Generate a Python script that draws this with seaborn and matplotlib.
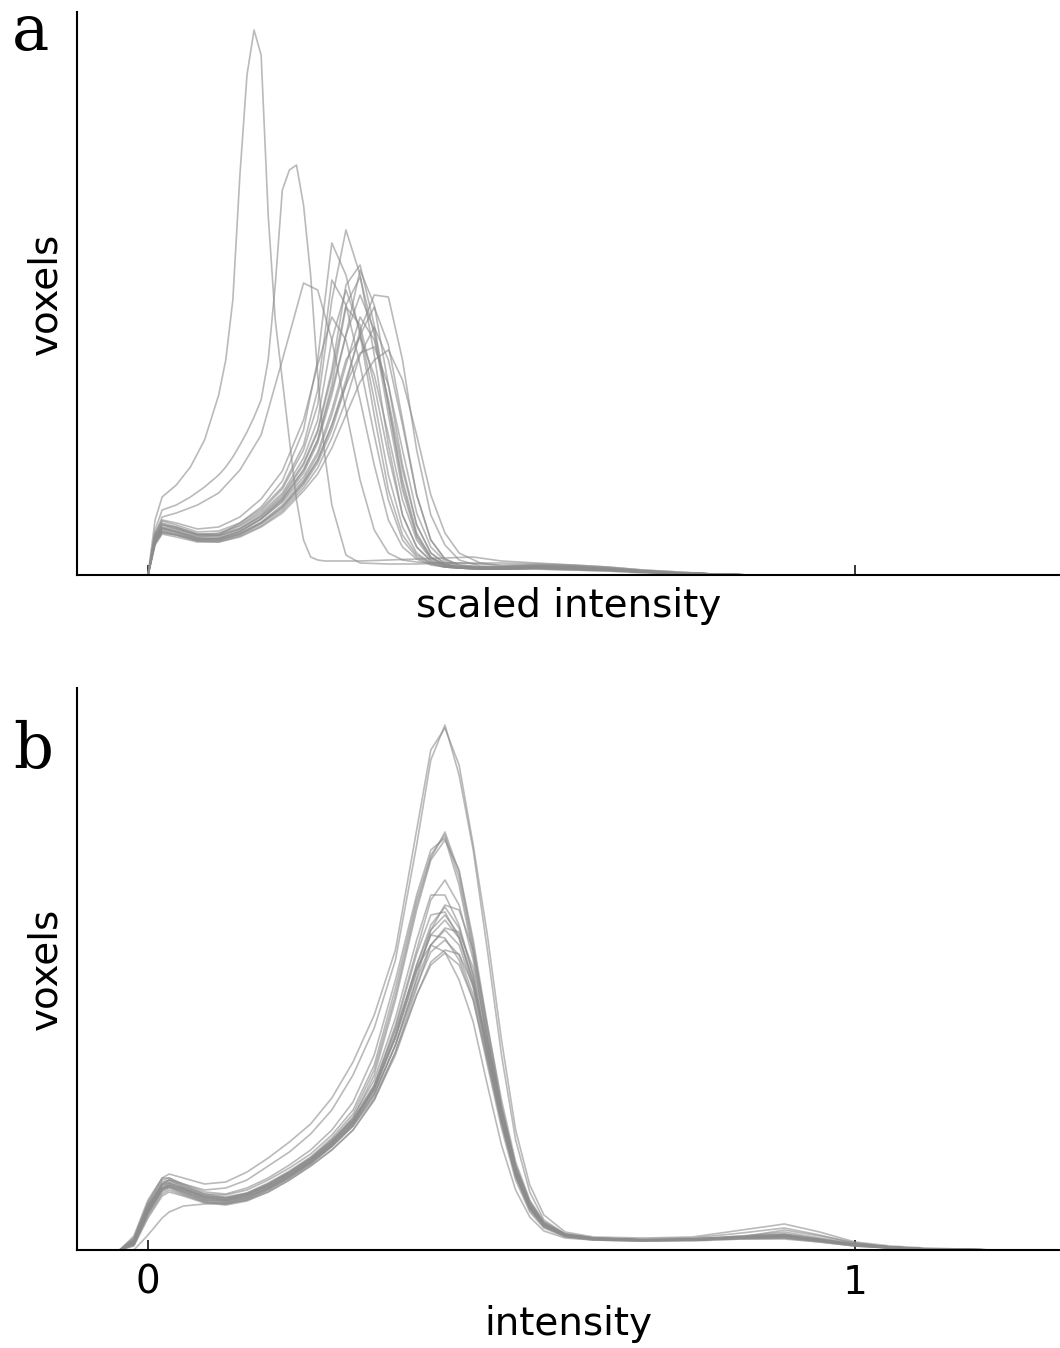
import matplotlib
matplotlib.use("Agg")
import matplotlib.pyplot as plt
import pandas as pd
import seaborn as sns

# ---------------- data (heights in arbitrary voxel-count units) ----------------
# panel a: two narrow early-peaking histograms on a fine grid
xa_peak = [0.00, 0.01, 0.02, 0.04, 0.06, 0.08, 0.10, 0.11, 0.12, 0.13, 0.14, 0.15, 0.16,
           0.17, 0.18, 0.19, 0.20, 0.21, 0.22, 0.23, 0.24, 0.25, 0.26, 0.28, 0.30, 0.34,
           0.38, 0.42, 0.46, 0.50, 0.55, 0.60, 0.65, 0.70, 0.75, 0.80, 0.85, 1.29]
a_peak1 = [0, 55, 78, 90, 108, 135, 180, 215, 275, 400, 500, 545, 520,
           360, 255, 195, 135, 75, 35, 18, 15, 14, 14, 14, 14, 15,
           16, 17, 18, 14, 12, 10, 8, 5, 3, 1, 0, 0]
a_peak2 = [0, 45, 65, 70, 78, 88, 100, 108, 118, 130, 143, 158, 175,
           215, 290, 385, 405, 410, 370, 300, 200, 120, 70, 20, 12, 11,
           11, 12, 12, 12, 11, 10, 8, 5, 3, 1, 0, 0]

# panel a: remaining histograms on a coarser grid
xa = [0.00, 0.01, 0.02, 0.04, 0.07, 0.10, 0.13, 0.16, 0.19, 0.22, 0.24, 0.26, 0.28, 0.30,
      0.32, 0.34, 0.36, 0.38, 0.40, 0.42, 0.44, 0.47, 0.50, 0.55, 0.60, 0.65, 0.70, 0.75,
      0.80, 0.85, 1.29]
a_c03 = [0, 40, 58, 62, 70, 82, 105, 140, 215, 292, 285, 235, 165, 95, 45, 22, 15, 13, 12, 12, 12, 11, 10, 10, 9, 7, 4, 2, 1, 0, 0]
a_c04 = [0, 36, 50, 46, 40, 42, 50, 64, 86, 125, 170, 275, 345, 300, 220, 130, 60, 28, 14, 9, 7, 6, 6, 7, 6, 5, 3, 2, 1, 0, 0]
a_c05 = [0, 33, 47, 44, 38, 40, 52, 68, 94, 145, 215, 332, 300, 240, 160, 85, 40, 20, 12, 8, 7, 6, 6, 6, 5, 4, 3, 1, 0, 0, 0]
a_c06 = [0, 38, 52, 48, 41, 40, 47, 60, 80, 112, 145, 205, 290, 310, 250, 170, 90, 40, 18, 10, 8, 7, 7, 8, 7, 5, 3, 2, 1, 0, 0]
a_c07 = [0, 34, 45, 42, 36, 36, 43, 56, 74, 102, 132, 180, 240, 305, 270, 190, 110, 50, 22, 12, 8, 7, 7, 8, 7, 6, 4, 2, 1, 0, 0]
a_c08 = [0, 32, 43, 40, 34, 34, 40, 51, 66, 90, 112, 145, 190, 245, 280, 278, 215, 125, 60, 30, 15, 9, 8, 9, 8, 6, 4, 2, 1, 0, 0]
a_c09 = [0, 40, 54, 50, 43, 44, 52, 66, 88, 130, 185, 295, 270, 210, 140, 75, 35, 18, 11, 8, 7, 6, 6, 7, 6, 5, 3, 2, 1, 0, 0]
a_c10 = [0, 36, 47, 43, 37, 36, 42, 53, 70, 95, 120, 160, 210, 258, 235, 175, 105, 50, 22, 11, 8, 7, 6, 7, 6, 5, 3, 2, 1, 0, 0]
a_c11 = [0, 38, 51, 47, 40, 39, 46, 58, 76, 105, 135, 190, 268, 250, 190, 120, 60, 28, 14, 9, 7, 6, 6, 7, 6, 5, 3, 2, 1, 0, 0]
a_c12 = [0, 30, 41, 38, 33, 33, 39, 49, 64, 87, 107, 137, 175, 220, 248, 215, 150, 80, 35, 16, 10, 8, 8, 9, 8, 6, 4, 2, 1, 0, 0]
a_c13 = [0, 35, 47, 44, 37, 37, 44, 56, 73, 98, 123, 165, 215, 238, 200, 140, 75, 35, 16, 10, 8, 7, 7, 8, 7, 5, 3, 2, 1, 0, 0]
a_c14 = [0, 33, 44, 41, 35, 35, 41, 52, 68, 92, 115, 150, 190, 222, 228, 190, 125, 62, 28, 14, 9, 8, 8, 9, 8, 6, 4, 2, 1, 0, 0]
a_c15 = [0, 31, 42, 40, 34, 33, 38, 48, 62, 84, 101, 127, 160, 193, 215, 225, 195, 140, 80, 42, 22, 12, 9, 10, 9, 7, 4, 2, 1, 0, 0]
a_c16 = [0, 37, 50, 48, 41, 41, 49, 62, 82, 117, 155, 235, 285, 245, 175, 100, 48, 22, 12, 8, 7, 6, 6, 7, 6, 5, 3, 2, 1, 0, 0]
a_c17 = [0, 34, 46, 43, 36, 37, 44, 56, 76, 105, 135, 185, 240, 280, 245, 170, 95, 42, 18, 10, 8, 7, 7, 8, 7, 5, 3, 2, 1, 0, 0]
a_c18 = [0, 42, 55, 52, 46, 48, 58, 76, 104, 155, 210, 258, 235, 175, 110, 55, 28, 16, 10, 8, 7, 6, 6, 6, 5, 4, 2, 1, 0, 0, 0]
a_c19 = [0, 32, 43, 40, 35, 35, 41, 52, 68, 93, 115, 150, 195, 240, 268, 230, 155, 80, 35, 16, 10, 8, 8, 9, 8, 6, 4, 2, 1, 0, 0]
a_c20 = [0, 35, 48, 46, 39, 39, 46, 59, 78, 110, 143, 200, 270, 298, 240, 160, 85, 38, 17, 10, 8, 7, 7, 8, 7, 5, 3, 2, 1, 0, 0]

# panel b: normalised histograms
xb = [-0.04, -0.02, 0.00, 0.02, 0.03, 0.05, 0.08, 0.11, 0.14, 0.17, 0.20, 0.23, 0.26, 0.29,
      0.32, 0.35, 0.38, 0.40, 0.42, 0.44, 0.46, 0.48, 0.50, 0.52, 0.54, 0.56, 0.59, 0.63,
      0.70, 0.77, 0.84, 0.90, 0.95, 1.00, 1.05, 1.10, 1.20, 1.29]
b_01 = [0, 12, 48, 72, 76, 72, 66, 68, 78, 92, 108, 126, 152, 188, 235, 300, 420, 500, 522, 485, 405, 315, 210, 120, 65, 35, 18, 13, 12, 13, 20, 26, 18, 8, 4, 2, 0, 0]
b_02 = [0, 8, 42, 66, 70, 66, 60, 62, 70, 84, 98, 116, 140, 175, 222, 290, 405, 490, 525, 475, 400, 300, 195, 110, 58, 30, 16, 12, 11, 12, 17, 22, 15, 7, 3, 1, 0, 0]
b_03 = [0, 8, 42, 66, 70, 64, 56, 55, 60, 70, 82, 96, 115, 140, 185, 262, 350, 395, 415, 372, 300, 215, 140, 80, 44, 25, 14, 11, 10, 10, 13, 14, 10, 5, 3, 1, 0, 0]
b_04 = [0, 5, 36, 60, 64, 60, 52, 50, 55, 64, 76, 90, 108, 132, 175, 250, 340, 390, 410, 380, 310, 225, 145, 84, 46, 26, 15, 11, 10, 11, 14, 16, 11, 6, 3, 1, 0, 0]
b_05 = [0, 10, 46, 70, 72, 66, 58, 56, 62, 72, 85, 100, 120, 148, 195, 270, 355, 400, 412, 365, 295, 210, 135, 76, 42, 24, 14, 11, 10, 10, 12, 13, 9, 5, 2, 1, 0, 0]
b_06 = [0, 6, 38, 62, 66, 62, 54, 52, 57, 67, 79, 93, 112, 136, 180, 255, 345, 392, 418, 378, 305, 220, 142, 82, 45, 25, 14, 11, 10, 10, 13, 15, 10, 5, 3, 1, 0, 0]
b_07 = [0, 8, 40, 62, 65, 60, 52, 50, 55, 64, 76, 90, 108, 130, 165, 225, 300, 350, 370, 345, 290, 210, 140, 82, 46, 26, 15, 12, 10, 11, 13, 15, 10, 5, 3, 1, 0, 0]
b_08 = [0, 6, 36, 58, 62, 56, 48, 46, 50, 60, 72, 86, 104, 126, 160, 215, 285, 325, 343, 322, 275, 205, 138, 80, 45, 26, 15, 11, 10, 10, 12, 14, 10, 5, 2, 1, 0, 0]
b_09 = [0, 10, 44, 66, 68, 62, 54, 52, 56, 66, 78, 92, 110, 130, 162, 212, 278, 315, 330, 312, 270, 200, 132, 76, 42, 24, 14, 11, 10, 10, 12, 13, 9, 5, 2, 1, 0, 0]
b_10 = [0, 12, 46, 68, 70, 63, 55, 52, 56, 65, 77, 90, 107, 128, 160, 212, 280, 315, 312, 290, 250, 185, 122, 70, 38, 22, 13, 10, 9, 10, 11, 12, 8, 4, 2, 1, 0, 0]
b_11 = [0, 4, 32, 54, 58, 54, 47, 45, 49, 58, 70, 84, 100, 120, 150, 195, 255, 285, 297, 285, 250, 190, 128, 75, 42, 24, 14, 11, 9, 10, 12, 13, 9, 5, 2, 1, 0, 0]
b_12 = [0, 9, 42, 64, 67, 61, 53, 51, 55, 65, 77, 91, 110, 133, 170, 232, 310, 355, 355, 325, 275, 200, 132, 76, 42, 24, 14, 11, 10, 10, 13, 14, 10, 5, 3, 1, 0, 0]
b_13 = [0, 7, 38, 60, 63, 58, 50, 48, 52, 61, 73, 87, 104, 125, 155, 205, 272, 320, 345, 340, 300, 225, 150, 88, 50, 28, 16, 12, 10, 11, 14, 18, 12, 6, 3, 1, 0, 0]
b_14 = [0, 8, 40, 62, 64, 58, 50, 49, 53, 62, 74, 88, 106, 128, 162, 215, 285, 320, 335, 315, 268, 198, 132, 78, 44, 25, 15, 11, 10, 11, 13, 15, 10, 5, 3, 1, 0, 0]
b_15 = [0, 5, 34, 56, 60, 55, 48, 46, 50, 58, 70, 84, 100, 120, 150, 198, 262, 305, 322, 318, 282, 212, 142, 84, 48, 27, 16, 12, 10, 11, 13, 16, 11, 6, 3, 1, 0, 0]
b_16 = [0, 10, 44, 65, 67, 61, 53, 50, 54, 63, 75, 89, 106, 126, 157, 205, 265, 298, 310, 295, 255, 190, 126, 73, 40, 23, 14, 10, 9, 10, 12, 12, 9, 4, 2, 1, 0, 0]
b_17 = [0, 14, 50, 72, 72, 65, 56, 53, 57, 66, 78, 92, 109, 130, 165, 220, 282, 305, 298, 270, 228, 165, 105, 60, 33, 19, 12, 10, 9, 9, 11, 11, 8, 4, 2, 1, 0, 0]
b_18 = [0, 7, 40, 62, 65, 59, 51, 49, 53, 62, 74, 88, 106, 128, 163, 222, 296, 335, 338, 312, 265, 195, 128, 74, 41, 24, 14, 11, 10, 10, 12, 14, 10, 5, 2, 1, 0, 0]
b_19 = [0, 6, 38, 60, 63, 57, 49, 47, 51, 60, 72, 86, 103, 124, 156, 205, 270, 305, 320, 305, 262, 195, 130, 76, 43, 25, 15, 11, 10, 10, 12, 14, 10, 5, 2, 1, 0, 0]
b_20 = [0, 0, 15, 32, 38, 44, 46, 47, 52, 62, 74, 88, 104, 124, 152, 198, 255, 288, 300, 296, 265, 205, 140, 84, 48, 28, 16, 12, 10, 11, 13, 20, 14, 7, 3, 1, 0, 0]

x_ticks = [0, 1]
x_ticklabels = ["0", "1"]


def to_long(x, curves, prefix):
    rows = []
    for i, ys in enumerate(curves):
        for xi, yi in zip(x, ys, strict=True):
            rows.append((f"{prefix}{i}", xi, yi))
    return rows


rows_a = to_long(xa_peak, [a_peak1, a_peak2], "p")
rows_a += to_long(xa, [a_c03, a_c04, a_c05, a_c06, a_c07, a_c08, a_c09, a_c10, a_c11,
                       a_c12, a_c13, a_c14, a_c15, a_c16, a_c17, a_c18, a_c19, a_c20], "c")
df_a = pd.DataFrame(rows_a, columns=["curve", "x", "voxels"])

rows_b = to_long(xb, [b_01, b_02, b_03, b_04, b_05, b_06, b_07, b_08, b_09, b_10,
                      b_11, b_12, b_13, b_14, b_15, b_16, b_17, b_18, b_19, b_20], "b")
df_b = pd.DataFrame(rows_b, columns=["curve", "x", "voxels"])

# ---------------- plotting ----------------
sns.set_theme(style="white")
plt.rcParams["font.family"] = ["DejaVu Sans"]

W, H = 1060, 1348
fig = plt.figure(figsize=(W / 100, H / 100), dpi=100)
left = 77 / W
ax_a = fig.add_axes([left, 1 - 575 / H, 1 - left, (575 - 12) / H])
ax_b = fig.add_axes([left, 1 - 1250 / H, 1 - left, (1250 - 688) / H])

for ax, df, ymax in [(ax_a, df_a, 563), (ax_b, df_b, 562)]:
    sns.lineplot(data=df, x="x", y="voxels", units="curve", estimator=None,
                 color="#8c8c8c", alpha=0.6, lw=1.2, ax=ax, legend=False)
    ax.set_xlim((77 - 148) / 707, (1060 - 148) / 707)
    ax.set_ylim(0, ymax)
    for s in ["top", "right"]:
        ax.spines[s].set_visible(False)
    for s in ["left", "bottom"]:
        ax.spines[s].set_color("black")
        ax.spines[s].set_linewidth(1.5)
    ax.set_yticks([])
    ax.set_xticks(x_ticks)
    ax.tick_params(axis="x", bottom=True, direction="in", length=7, width=1.1,
                   color="black", labelsize=28, pad=10, labelcolor="black")
    ax.set_ylabel("voxels", fontsize=28, color="black")
    ax.yaxis.set_label_coords(-0.013, 0.5)

ax_a.tick_params(axis="x", labelbottom=False)
ax_a.set_xlabel("scaled intensity", fontsize=28, color="black")
ax_a.xaxis.set_label_coords(0.5, -0.022)

ax_b.set_xticklabels(x_ticklabels)
ax_b.set_xlabel("intensity", fontsize=28, color="black")
ax_b.xaxis.set_label_coords(0.5, -0.098)

fig.text(12 / W, 1 - 50 / H, "a", family="DejaVu Serif", fontsize=45,
         ha="left", va="baseline", color="black")
fig.text(13 / W, 1 - 768 / H, "b", family="DejaVu Serif", fontsize=45,
         ha="left", va="baseline", color="black")

fig.savefig("out.png", dpi=100)
